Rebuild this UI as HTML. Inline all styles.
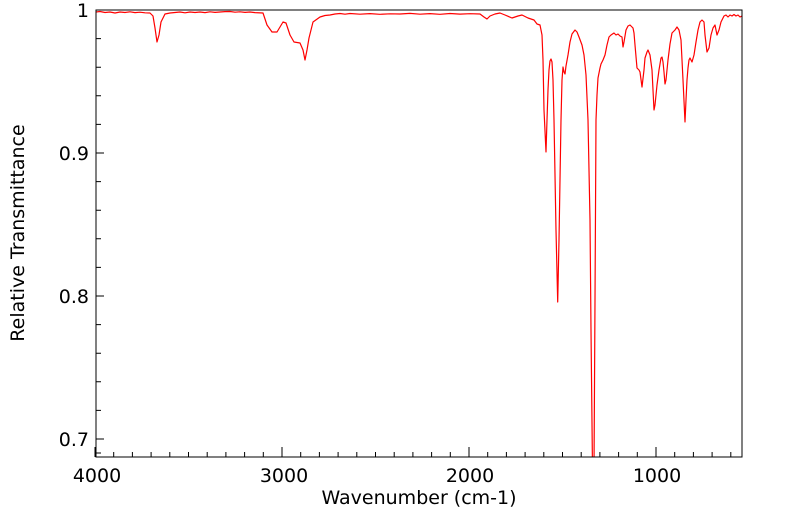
<!DOCTYPE html>
<html><head><meta charset="utf-8"><style>
html,body{margin:0;padding:0;background:#fff;}
svg{display:block;font-family:"DejaVu Sans","Liberation Sans",sans-serif;}
</style></head><body>
<svg width="799" height="516" viewBox="0 0 799 516" xmlns="http://www.w3.org/2000/svg">
<defs><clipPath id="c"><rect x="96" y="10" width="646" height="447"/></clipPath></defs>
<g clip-path="url(#c)">
<polyline fill="none" stroke="#ff0000" stroke-width="1.2" stroke-linejoin="round" points="
96,12 100,11.5 105,12.5 110,12 115,13 120,12 125,12.5 130,11.8 135,12.6 140,12.2 145,12.8 150,13 153,16 155,28 157,42 159,35 161,22 165,14 170,13 175,12.5 180,12 185,12.8 190,12 195,12.5 200,12 205,12.6 210,11.8 215,12.4 220,12 225,11.6 230,11.5 235,12.2 240,11.8 245,12.4 250,12 255,12.6 263,13 267,25 272,32 277,32 283,22 286,23 290,35 294,42 300,43 303,50 305,60 307,50 309,38 313,22 320,17 325,15.5 330,15 335,14 340,13.5 345,14.2 350,13.5 360,14.2 370,13.6 380,14.3 390,13.8 400,14 410,13.4 420,14.2 430,13.6 440,14.3 450,13.5 460,14.1 470,13.7 480,14 484,17 487,19 490,16 495,14 500,13 505,15 512,18 518,16 522,15 528,18 534,20 537,24 540,25 542,35 543,60 544,110 546,152 547,120 548,90 549,70 550,61 551,59 552,62 553,80 554,120 556,230 557.7,302 559,240 560,180 561,120 562,80 563,67 564,72 565,74 566,66 568,55 570,42 572,34 575,30 577,32 579,37 582,45 584,55 586,75 588,120 590,220 591,330 592.5,470 594,470 595,300 596,120 597,95 598,78 600,68 601,64 603,60 605,55 607,45 609,37 611,35 614,33 616,35 618,34 620,36 622,37 623,47 624,42 626,30 628,26 630,25 633,28 634,33 635,45 637,68 639,70 640,72 642,87 644,70 645,58 647,52 648,50 650,55 652,70 654,110 655,105 657,85 659,70 661,58 662,57 663,62 664,72 665,84 666,80 668,60 670,44 672,33 675,30 677,27 679,30 681,40 683,80 685,122 686,100 687,80 688,68 689,60 690,58 692,62 694,55 696,42 698,30 700,22 702,20 704,22 705,35 707,52 709,48 711,35 713,28 715,25 717,35 719,30 721,22 724,16 726,15 728,17 730,15 732,16 734,14.5 736,16 738,15 740,17 742,16"/>
</g>
<rect x="96" y="10" width="646" height="447" fill="none" stroke="#000" stroke-width="1"/>
<g stroke="#000" stroke-width="1">
<path d="M95,457v-10M282,457v-10M469,457v-10M656,457v-10
M113.7,457v-5M132.4,457v-5M151.1,457v-5M169.8,457v-5M188.5,457v-5M207.2,457v-5M225.9,457v-5M244.6,457v-5M263.3,457v-5
M300.7,457v-5M319.4,457v-5M338.1,457v-5M356.8,457v-5M375.5,457v-5M394.2,457v-5M412.9,457v-5M431.6,457v-5M450.3,457v-5
M487.7,457v-5M506.4,457v-5M525.1,457v-5M543.8,457v-5M562.5,457v-5M581.2,457v-5M599.9,457v-5M618.6,457v-5M637.3,457v-5
M674.7,457v-5M693.4,457v-5M712.1,457v-5M730.8,457v-5"/>
<path d="M96,10h8M96,153h8M96,296h8M96,439h8
M96,38.6h5M96,67.2h5M96,95.8h5M96,124.4h5M96,181.6h5M96,210.2h5M96,238.8h5M96,267.4h5M96,324.6h5M96,353.2h5M96,381.8h5M96,410.4h5M96,453h5"/>
</g>
<g font-size="19" fill="#000">
<text x="89" y="17" text-anchor="end">1</text>
<text x="89" y="160" text-anchor="end">0.9</text>
<text x="89" y="303" text-anchor="end">0.8</text>
<text x="89" y="446" text-anchor="end">0.7</text>
<text x="97" y="482" text-anchor="middle">4000</text>
<text x="284" y="482" text-anchor="middle">3000</text>
<text x="470" y="482" text-anchor="middle">2000</text>
<text x="657" y="482" text-anchor="middle">1000</text>
<text x="419" y="504" text-anchor="middle">Wavenumber (cm-1)</text>
<text transform="translate(24,233) rotate(-90)" text-anchor="middle">Relative Transmittance</text>
</g>
</svg>
</body></html>
